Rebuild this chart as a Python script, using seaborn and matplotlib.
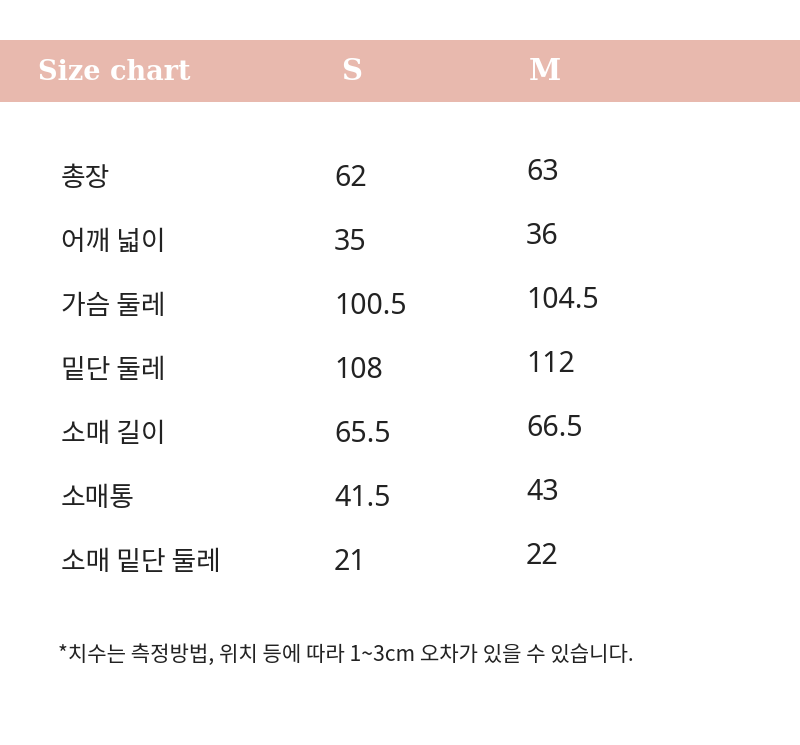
import matplotlib
matplotlib.use("Agg")
import matplotlib.pyplot as plt
import seaborn as sns

sns.set_theme(style="white")

title = "Size chart"
sizes = ["S", "M"]
measures = ["총장", "어깨 넓이", "가슴 둘레", "밑단 둘레", "소매 길이", "소매통", "소매 밑단 둘레"]
s_values = ["62", "35", "100.5", "108", "65.5", "41.5", "21"]
m_values = ["63", "36", "104.5", "112", "66.5", "43", "22"]
note = "*치수는 측정방법, 위치 등에 따라 1~3cm 오차가 있을 수 있습니다."

W, H = 800, 745
fig = plt.figure(figsize=(W / 100, H / 100), dpi=100)
ax = fig.add_axes([0, 0, 1, 1])
ax.set_xlim(0, W)
ax.set_ylim(H, 0)
ax.axis("off")
fig.patch.set_facecolor("white")

ax.add_patch(plt.Rectangle((0, 40), W, 62, color="#E8B9AE", lw=0))
ax.text(38, 72, title, color="white", fontsize=19.5, fontweight="bold",
        family="DejaVu Serif", va="center", ha="left")
for x, s in zip([352, 545], sizes):
    ax.text(x, 72, s, color="white", fontsize=21, fontweight="bold",
            family="DejaVu Serif", va="center", ha="center")

kr = "Noto Sans CJK KR"
y0, dy = 178, 64
for i, (m, s, mm) in enumerate(zip(measures, s_values, m_values)):
    y = y0 + i * dy
    ax.text(61, y, m, fontsize=19.3, family=kr, color="#222222", va="center")
    ax.text(334, y, s, fontsize=20.5, family="Noto Sans", color="#222222", va="center")
    ax.text(526, y - 5, mm, fontsize=20.5, family="Noto Sans", color="#222222", va="center")

ax.text(58, 655, note, fontsize=15.2, family=kr, color="#222222", va="center")

fig.savefig("out.png", dpi=100)
